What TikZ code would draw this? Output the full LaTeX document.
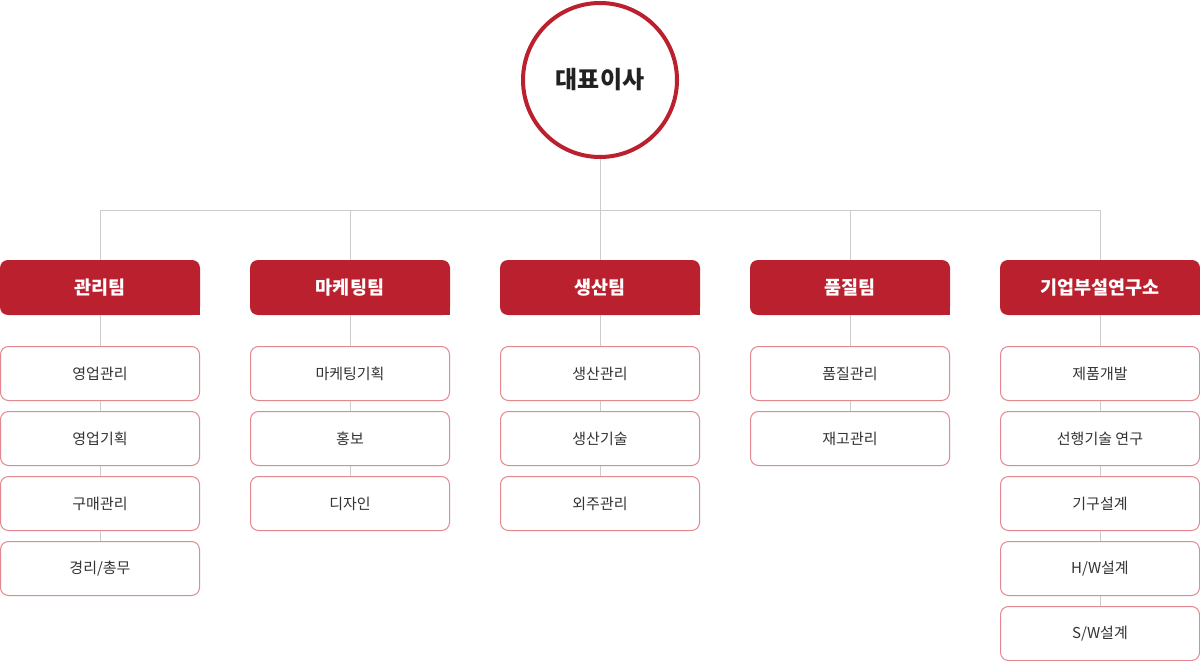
\documentclass[tikz,border=0pt]{standalone}
\usepackage{fontspec}
\newfontfamily\kr{Noto Sans CJK KR}
\definecolor{hred}{HTML}{BB202E}
\definecolor{bpink}{HTML}{E3888F}
\definecolor{lgray}{HTML}{CCCCCC}
\definecolor{txt}{HTML}{333333}
\tikzset{
  ceo/.style={circle, draw=hred, line width=4pt, fill=white, minimum size=154pt, inner sep=0pt, font=\kr\bfseries\fontsize{24}{28}\selectfont, text=black!87},
  team/.style={rectangle, rounded corners=8pt, fill=hred, minimum width=200pt, minimum height=55pt, inner sep=0pt, font=\kr\bfseries\fontsize{18.5}{22}\selectfont, text=white},
  sub/.style={rectangle, rounded corners=8pt, draw=bpink, line width=1pt, fill=white, minimum width=199pt, minimum height=54pt, inner sep=0pt, font=\kr\fontsize{15}{18}\selectfont, text=txt},
  link/.style={draw=lgray, line width=1pt}
}
\begin{document}
\begin{tikzpicture}[x=1pt,y=-1pt]
\useasboundingbox (0,0) rectangle (1200,661);
\coordinate (j) at (600,210);
\coordinate (jl) at (100,210);
\coordinate (jr) at (1100,210);
\node[ceo] (ceo) at (600,80) {대표이사};
\foreach \i/\x/\t in {1/100/관리팀, 2/350/마케팅팀, 3/600/생산팀, 4/850/품질팀, 5/1100/기업부설연구소}{
  \node[team] (t\i) at (\x,287.5) {\t};
  \fill[hred] ([xshift=-12pt,yshift=12pt]t\i.south east) rectangle (t\i.south east);
}
% team 1
\node[sub] (a1) at (100,373.5) {영업관리};
\node[sub] (a2) at (100,438.5) {영업기획};
\node[sub] (a3) at (100,503.5) {구매관리};
\node[sub] (a4) at (100,568.5) {경리/총무};
% team 2
\node[sub] (b1) at (350,373.5) {마케팅기획};
\node[sub] (b2) at (350,438.5) {홍보};
\node[sub] (b3) at (350,503.5) {디자인};
% team 3
\node[sub] (c1) at (600,373.5) {생산관리};
\node[sub] (c2) at (600,438.5) {생산기술};
\node[sub] (c3) at (600,503.5) {외주관리};
% team 4
\node[sub] (d1) at (850,373.5) {품질관리};
\node[sub] (d2) at (850,438.5) {재고관리};
% team 5
\node[sub] (e1) at (1100,373.5) {제품개발};
\node[sub] (e2) at (1100,438.5) {선행기술 연구};
\node[sub] (e3) at (1100,503.5) {기구설계};
\node[sub] (e4) at (1100,568.5) {H/W설계};
\node[sub] (e5) at (1100,633.5) {S/W설계};
% links
\draw[link] (ceo.south) -- (j);
\draw[link] (jl) -- (jr);
\foreach \i in {1,...,5}{ \draw[link] (t\i.north |- j) -- (t\i.north); }
\draw[link] (t1.south) -- (a1.north) (a1.south) -- (a2.north) (a2.south) -- (a3.north) (a3.south) -- (a4.north);
\draw[link] (t2.south) -- (b1.north) (b1.south) -- (b2.north) (b2.south) -- (b3.north);
\draw[link] (t3.south) -- (c1.north) (c1.south) -- (c2.north) (c2.south) -- (c3.north);
\draw[link] (t4.south) -- (d1.north) (d1.south) -- (d2.north);
\draw[link] (t5.south) -- (e1.north) (e1.south) -- (e2.north) (e2.south) -- (e3.north) (e3.south) -- (e4.north) (e4.south) -- (e5.north);
\end{tikzpicture}
\end{document}
